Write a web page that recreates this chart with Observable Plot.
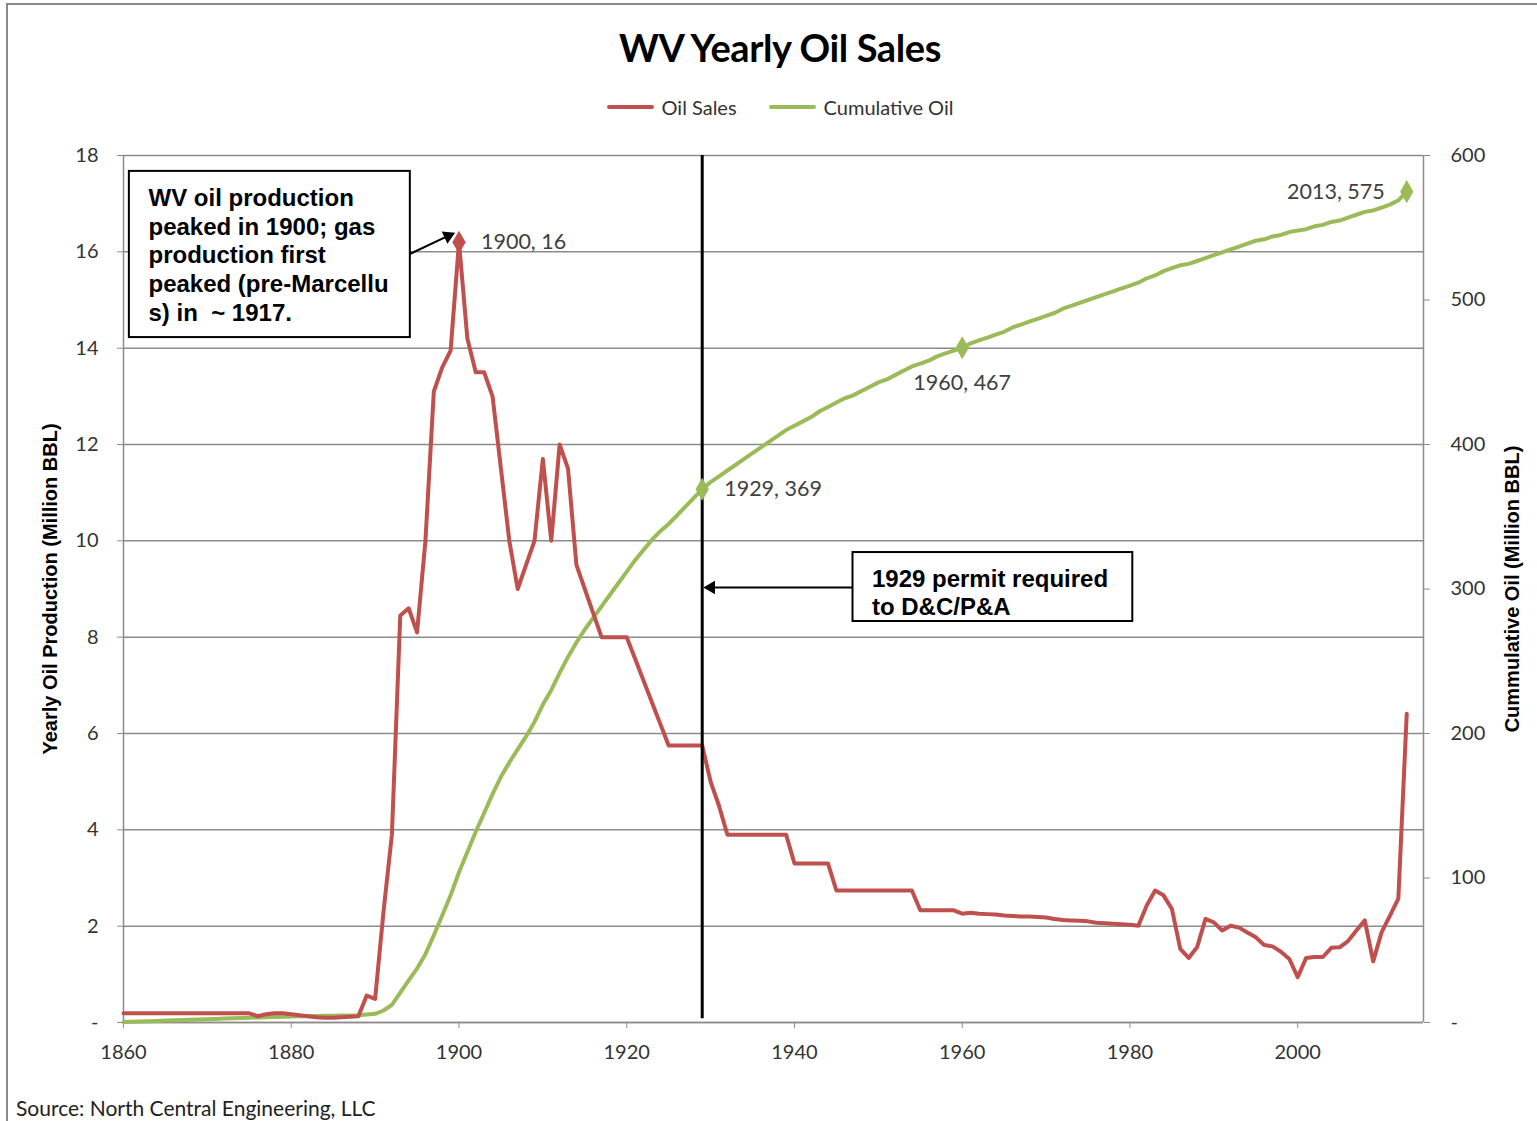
<!DOCTYPE html>
<html><head><meta charset="utf-8">
<script src="https://cdn.jsdelivr.net/npm/d3@7"></script>
<script src="https://cdn.jsdelivr.net/npm/@observablehq/plot@0.6"></script>
<style>
body{margin:0;background:#fff;}
#wrap{position:relative;width:1537px;height:1121px;overflow:hidden;font-family:Lato,"Open Sans",sans-serif;background:#fff;}
#frame{position:absolute;left:6px;top:3px;width:1700px;height:1300px;border-left:2px solid #8a8a8a;border-top:2px solid #8a8a8a;}
#title{position:absolute;top:24px;left:0;width:1560px;text-align:center;font-weight:bold;font-size:38px;color:#000;letter-spacing:-0.4px;}
#legend{position:absolute;top:95px;left:0;width:1560px;display:flex;justify-content:center;align-items:center;font-size:20px;color:#333;}
#legend .item{display:flex;align-items:center;margin:0 16px;}
#legend .sw{width:47px;height:4px;border-radius:2px;margin-right:8px;}
#chart{position:absolute;left:0;top:130px;}
#source{position:absolute;left:16px;top:1095px;font-size:21px;color:#222;}
</style>
</head><body>
<div id="wrap">
  <div id="frame"></div>
  <div id="title">WV Yearly Oil Sales</div>
  <div id="legend"></div>
  <div id="chart"></div>
  <div id="source">Source: North Central Engineering, LLC</div>
</div>
<script>
// ---------- DATA ----------
const startYear = 1860;
const oilSales = [ // Million BBL per year, 1860..2013
  0.19,0.19,0.19,0.19,0.19,0.19,0.19,0.19,0.19,0.19,
  0.19,0.19,0.19,0.19,0.19,0.19,0.13,0.17,0.19,0.19,
  0.17,0.15,0.13,0.11,0.10,0.10,0.11,0.12,0.13,0.56,
  0.49,2.3,3.9,8.45,8.6,8.1,10.0,13.1,13.6,13.95,
  16.2,14.2,13.5,13.5,13.0,11.5,10.0,9.0,9.5,10.0,
  11.7,10.0,12.0,11.5,9.5,9.0,8.5,8.0,8.0,8.0,
  8.0,7.55,7.1,6.65,6.2,5.75,5.75,5.75,5.75,5.75,
  5.0,4.5,3.9,3.9,3.9,3.9,3.9,3.9,3.9,3.9,
  3.3,3.3,3.3,3.3,3.3,2.74,2.74,2.74,2.74,2.74,
  2.74,2.74,2.74,2.74,2.74,2.33,2.33,2.33,2.33,2.33,
  2.26,2.28,2.26,2.25,2.24,2.22,2.21,2.20,2.20,2.19,
  2.18,2.15,2.13,2.12,2.11,2.10,2.07,2.06,2.05,2.04,
  2.03,2.01,2.43,2.74,2.64,2.36,1.53,1.34,1.56,2.15,
  2.08,1.91,2.01,1.97,1.87,1.77,1.61,1.58,1.47,1.32,
  0.94,1.34,1.36,1.36,1.55,1.56,1.69,1.91,2.12,1.27,
  1.87,2.22,2.57,6.41
];
const cumulativeOil = [ // Million BBL, 1860..2013
  0.3,0.5,0.7,0.9,1.1,1.3,1.5,1.7,1.9,2.1,
  2.3,2.5,2.7,2.9,3.1,3.3,3.4,3.6,3.8,4.0,
  4.2,4.3,4.4,4.5,4.6,4.7,4.8,4.9,5.0,5.5,
  6.0,8.3,12.2,20.6,29.2,37.3,47.3,60.4,74,88,
  104,118,132,145,158,170,180,189,198,208,
  220,230,242,253,263,272,280,288,296,304,
  312,320,327,334,340,345,351,357,363,369,
  374,378,382,386,390,394,398,402,406,410,
  413,416,419,423,426,429,432,434,437,440,
  443,445,448,451,454,456,458,461,463,465,
  467,470,472,474,476,478,481,483,485,487,
  489,491,494,496,498,500,502,504,506,508,
  510,512,515,517,520,522,524,525,527,529,
  531,533,535,537,539,541,542,544,545,547,
  548,549,551,552,554,555,557,559,561,562,
  564,566,569,575
];
const xTicks = [1860,1880,1900,1920,1940,1960,1980,2000];
const leftTicks = [0,2,4,6,8,10,12,14,16,18];
const rightTicks = [0,100,200,300,400,500,600];
const seriesNames = ["Oil Sales","Cumulative Oil"];
const seriesColors = ["#C0504D","#9BBB59"];
const salesLabels = [{year:1900, v:16.2, text:"1900, 16"}];
const cumLabels = [
  {year:1929, v:369, text:"1929, 369", pos:"right"},
  {year:1960, v:467, text:"1960, 467", pos:"below"},
  {year:2013, v:575, text:"2013, 575", pos:"left"}
];
const permitYear = 1929;
const noteBoxes = [
  {x1:1860.7, x2:1894.2, y1:14.22, y2:17.67, tx:1862.98, ty:15.95,
   text:"WV oil production\npeaked in 1900; gas\nproduction first\npeaked (pre-Marcellu\ns) in \u00a0~ 1917."},
  {x1:1946.98, x2:1980.34, y1:8.325, y2:9.757, tx:1949.24, ty:8.94,
   text:"1929 permit required\nto D&C/P&A"}
];
const noteArrows = [
  {x1:1894.2, y1:15.96, x2:1898.7, y2:16.33, rotate:65},
  {x1:1946.98, y1:9.03, x2:1930.06, y2:9.03, rotate:-90}
];

// ---------- LEGEND ----------
const legend = document.getElementById("legend");
seriesNames.forEach((n,i)=>{
  const it = document.createElement("div"); it.className="item";
  const sw = document.createElement("div"); sw.className="sw"; sw.style.background=seriesColors[i];
  const tx = document.createElement("span"); tx.textContent=n;
  it.appendChild(sw); it.appendChild(tx); legend.appendChild(it);
});

// ---------- CHART ----------
const k = 18/600; // right-axis value -> left-axis units
const sales = oilSales.map((v,i)=>({year:startYear+i, v}));
const cum = cumulativeOil.map((v,i)=>({year:startYear+i, v}));
const gridColor = "#8c8c8c";

const chart = Plot.plot({
  width:1537, height:960,
  marginLeft:123, marginRight:114, marginTop:25, marginBottom:68,
  style:{fontFamily:"Lato, 'Open Sans', sans-serif", fontSize:"20px", color:"#333", background:"transparent", overflow:"visible"},
  x:{domain:[1860,2015]},
  y:{domain:[0,18]},
  marks:[
    Plot.gridY(leftTicks, {stroke:gridColor, strokeOpacity:1, strokeWidth:1.5}),
    Plot.ruleX([1860, 2015], {stroke:gridColor, strokeWidth:1.5}),
    Plot.ruleY([0], {stroke:gridColor, strokeWidth:1.5}),
    Plot.axisX(xTicks, {tickSize:6, tickPadding:16, stroke:gridColor, fill:"#333", tickFormat:d=>String(d), label:null}),
    Plot.axisY(leftTicks, {anchor:"left", tickSize:6, tickPadding:19, stroke:gridColor, fill:"#333", tickFormat:d=>d===0?"-":String(d), label:null}),
    Plot.axisY(rightTicks.map(v=>v*k), {anchor:"right", tickSize:6, tickPadding:21, stroke:gridColor, fill:"#333",
      tickFormat:d=>{const v=Math.round(d/k); return v===0?"-":String(v);}, label:null}),
    Plot.text(["Yearly Oil Production (Million BBL)"], {frameAnchor:"left", textAnchor:"middle", dx:-73, rotate:-90, fontFamily:"Liberation Sans, Arial, sans-serif", fontWeight:"bold", fontSize:20, fill:"#000"}),
    Plot.text(["Cummulative Oil (Million BBL)"], {frameAnchor:"right", textAnchor:"middle", dx:89, rotate:-90, fontFamily:"Liberation Sans, Arial, sans-serif", fontWeight:"bold", fontSize:20, fill:"#000"}),
    Plot.line(cum, {x:"year", y:d=>d.v*k, stroke:seriesColors[1], strokeWidth:4, strokeLinejoin:"round"}),
    Plot.line(sales, {x:"year", y:"v", stroke:seriesColors[0], strokeWidth:4, strokeLinejoin:"round"}),
    Plot.ruleX([permitYear], {y1:0.08, y2:18, stroke:"#000", strokeWidth:3}),
    Plot.dot(salesLabels, {x:"year", y:"v", symbol:"diamond", r:7, fill:seriesColors[0], stroke:null}),
    Plot.dot(cumLabels, {x:"year", y:d=>d.v*k, symbol:"diamond", r:7, fill:seriesColors[1], stroke:null}),
    Plot.text(salesLabels, {x:"year", y:"v", text:"text", textAnchor:"start", dx:22, fill:"#404040", fontSize:21.5}),
    Plot.text(cumLabels.filter(d=>d.pos==="right"), {x:"year", y:d=>d.v*k, text:"text", textAnchor:"start", dx:22, fill:"#404040", fontSize:21.5}),
    Plot.text(cumLabels.filter(d=>d.pos==="below"), {x:"year", y:d=>d.v*k, text:"text", textAnchor:"middle", dy:35, fill:"#404040", fontSize:21.5}),
    Plot.text(cumLabels.filter(d=>d.pos==="left"), {x:"year", y:d=>d.v*k, text:"text", textAnchor:"end", dx:-22, fill:"#404040", fontSize:21.5}),
    Plot.rect(noteBoxes, {x1:"x1", x2:"x2", y1:"y1", y2:"y2", fill:"#fff", stroke:"#000", strokeWidth:2}),
    Plot.text(noteBoxes, {x:"tx", y:"ty", text:"text", textAnchor:"start", lineAnchor:"middle", lineHeight:1.2,
      fontFamily:"Liberation Sans, Arial, sans-serif", fontWeight:"bold", fontSize:24, fill:"#000"}),
    Plot.link(noteArrows, {x1:"x1", y1:"y1", x2:"x2", y2:"y2", stroke:"#000", strokeWidth:2}),
    Plot.dot(noteArrows, {x:"x2", y:"y2", symbol:"triangle", r:5, fill:"#000", stroke:null, rotate:"rotate"})
  ]
});
document.getElementById("chart").appendChild(chart);
</script>
</body></html>
